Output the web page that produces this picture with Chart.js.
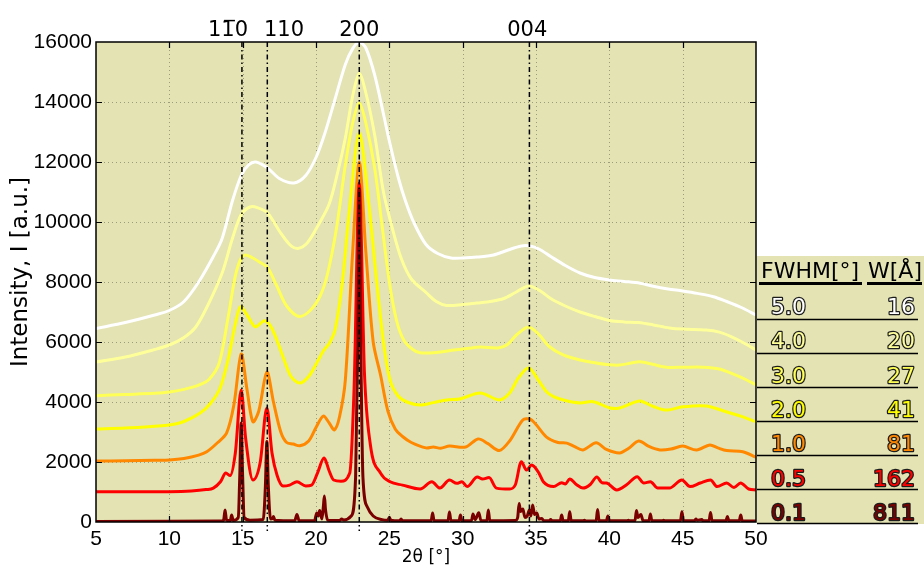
<!DOCTYPE html>
<html>
<head>
<meta charset="utf-8">
<script src="https://cdn.jsdelivr.net/npm/chart.js@4.4.0/dist/chart.umd.min.js"></script>
<style>
  html, body { margin: 0; padding: 0; background: #fff; }
</style>
</head>
<body>
<canvas id="xrd" width="924" height="570"></canvas>
<script>
// XRD patterns simulated with different peak widths, stacked with offsets
// each series: [2theta, intensity]

const fw50 = [[5,6450],[7,6650],[9,6900],[10,7050],[11,7350],[12,8000],[13,8850],[13.6,9450],[14.3,10700],[14.9,11550],[15.4,11900],[15.9,12000],[16.7,11800],[17.5,11450],[18.5,11300],[19.3,11550],[20.0,12150],[20.6,12950],[21.3,14100],[22.0,15250],[22.5,15780],[22.95,16000],[23.4,15800],[24.0,14900],[24.6,13600],[25.0,12700],[25.6,11500],[26.1,10700],[26.7,9950],[27.5,9250],[28.3,8950],[29.2,8800],[30.0,8800],[31.0,8830],[32.1,8900],[33.0,9050],[34.0,9200],[34.6,9200],[35.2,9100],[36.0,8850],[37.0,8550],[38.0,8300],[39.0,8150],[40.0,8070],[41.0,8020],[42.1,7960],[43.0,7860],[44.0,7770],[45.0,7700],[46.0,7620],[47.1,7510],[48.0,7350],[49.0,7150],[50,6900]];

const fw40 = [[5,5330],[7,5500],[9,5750],[10,5900],[11,6150],[11.8,6500],[12.6,7200],[13.6,8300],[14.3,9450],[14.9,10250],[15.5,10500],[16.0,10480],[16.7,10300],[17.5,9700],[18.2,9250],[18.75,9120],[19.4,9300],[20.1,9850],[20.9,10600],[21.5,11700],[22.0,12800],[22.5,14200],[22.95,14950],[23.4,14300],[24.0,12900],[24.6,11000],[25.2,9800],[25.8,8800],[26.5,8100],[27.5,7650],[28.2,7350],[28.9,7220],[30.0,7250],[31.0,7300],[32.0,7360],[32.8,7450],[33.6,7650],[34.5,7870],[35.3,7700],[36.0,7450],[37.0,7200],[38.0,7000],[39.0,6850],[40.0,6720],[41.0,6670],[42.0,6650],[43.0,6570],[44.1,6470],[45.0,6430],[46.6,6400],[47.5,6330],[48.3,6180],[49.2,5960],[50,5730]];

const fw30 = [[5,4210],[7,4250],[9,4290],[10,4330],[11,4420],[12,4560],[12.7,4750],[13.4,5300],[14.0,6800],[14.5,8200],[14.9,8800],[15.2,8900],[15.7,8800],[16.2,8650],[16.7,8480],[17.3,7900],[18.0,7200],[18.85,6850],[19.6,7050],[20.3,7550],[20.8,8300],[21.4,9800],[22.0,11900],[22.5,13300],[22.95,13970],[23.4,13300],[24.0,11800],[24.5,9900],[25.0,8000],[25.5,6700],[26.0,6050],[26.6,5750],[27.1,5640],[28.2,5650],[29.4,5730],[30.4,5790],[31.2,5830],[32.4,5800],[33.0,5900],[33.7,6250],[34.5,6500],[35.2,6250],[35.9,5850],[36.85,5570],[38.0,5400],[39.1,5300],[40.0,5240],[40.7,5230],[41.5,5300],[42.1,5340],[43.0,5250],[43.9,5160],[45.0,5160],[46.4,5160],[47.5,5100],[48.5,4920],[49.3,4750],[50,4570]];

const fw20 = [[5,3100],[7,3130],[9,3190],[10,3230],[11,3350],[12.1,3630],[12.8,3950],[13.45,4450],[14.0,5400],[14.5,6600],[14.85,7180],[15.3,6900],[15.85,6510],[16.5,6710],[17.0,6450],[17.75,5510],[18.3,4850],[18.9,4630],[19.5,4850],[20.05,5300],[20.5,5700],[20.9,5950],[21.3,6400],[21.8,8000],[22.3,10500],[22.95,12970],[23.6,10600],[24.1,8200],[24.6,6000],[25.05,4730],[25.6,4200],[26.2,4000],[27.1,3900],[28.0,3980],[28.9,4070],[29.8,4100],[31.2,4300],[32.5,4070],[33.2,4300],[33.8,4800],[34.5,5130],[35.2,4700],[35.7,4350],[36.2,4180],[37.0,4050],[38.0,3970],[38.9,4010],[40.05,3800],[40.7,3800],[41.5,3950],[42.1,4030],[43.0,3850],[43.9,3730],[45.0,3840],[46.6,3870],[47.8,3700],[49.0,3520],[50,3340]];

const fw10 = [[5,2030],[7,2040],[9,2060],[10,2070],[11,2120],[12,2230],[12.55,2340],[13.3,2650],[13.9,2960],[14.4,3900],[14.9,5600],[15.3,4400],[15.7,3340],[16.1,3700],[16.65,5000],[17.1,4000],[17.6,3000],[18.0,2650],[18.45,2600],[18.9,2540],[19.5,2700],[20.0,3150],[20.5,3530],[20.9,3300],[21.25,3070],[21.6,3500],[22.0,4730],[22.5,9000],[22.95,12000],[23.4,9000],[23.9,6000],[24.4,4900],[24.9,3700],[25.4,3100],[25.9,2850],[26.5,2650],[27.5,2470],[28.0,2500],[28.5,2460],[29.1,2530],[30.2,2500],[31.05,2770],[31.7,2620],[32.5,2380],[33.2,2700],[34.1,3400],[34.6,3430],[35.0,3250],[35.7,2840],[36.5,2650],[37.1,2630],[37.6,2520],[38.2,2400],[39.1,2640],[39.8,2420],[40.7,2300],[41.3,2450],[42.0,2700],[42.7,2520],[43.45,2400],[44.2,2430],[45.0,2530],[45.95,2400],[46.85,2570],[47.4,2470],[48.0,2380],[49.1,2340],[50,2160]];

const fw05 = [[5,1010],[8,1010],[10,1010],[11.5,1030],[12.5,1080],[13.0,1130],[13.5,1350],[13.85,1630],[14.15,1550],[14.5,2300],[14.9,4400],[15.2,2800],[15.7,1400],[16.2,2000],[16.65,3800],[17.0,2300],[17.35,1550],[17.75,1200],[18.2,1230],[18.7,1340],[19.3,1200],[19.7,1230],[20.1,1630],[20.55,2130],[20.9,1700],[21.2,1400],[21.7,1360],[22.3,1630],[22.6,4500],[22.95,11300],[23.3,5000],[23.7,2600],[24.4,1630],[25.05,1340],[25.9,1230],[27.1,1100],[27.9,1340],[28.45,1130],[29.1,1400],[29.6,1290],[29.95,1340],[30.3,1180],[31.0,1500],[31.35,1430],[31.8,1480],[32.3,1130],[33.2,1100],[33.6,1250],[34.0,2010],[34.35,1730],[34.7,1900],[35.2,1630],[35.5,1340],[36.2,1180],[36.75,1310],[37.0,1270],[37.3,1430],[37.75,1250],[38.2,1130],[38.7,1250],[39.15,1500],[39.5,1310],[39.8,1300],[40.5,1070],[41.2,1250],[41.9,1510],[42.35,1300],[42.8,1340],[43.3,1130],[44.1,1130],[44.95,1400],[45.5,1180],[46.2,1300],[46.9,1400],[47.35,1180],[48.0,1300],[48.5,1150],[48.95,1300],[49.5,1100],[50,1070]];

const fw01 = [[5,20],[13.5,30],[13.7,60],[13.8,400],[13.9,60],[14.15,40],[14.25,230],[14.35,50],[14.7,150],[14.8,1500],[14.9,3300],[15.0,1500],[15.1,150],[15.5,60],[16.4,80],[16.55,1200],[16.65,2680],[16.75,1200],[16.9,100],[17.05,120],[17.1,180],[17.2,60],[18.55,40],[18.7,250],[18.85,40],[19.9,40],[20.05,300],[20.15,200],[20.25,380],[20.4,100],[20.5,500],[20.57,870],[20.65,400],[20.8,60],[21.6,50],[21.75,100],[21.9,70],[22.4,200],[22.7,1500],[22.85,6000],[22.95,11100],[23.05,6000],[23.2,1500],[23.5,500],[23.9,200],[24.5,80],[24.9,60],[25.0,160],[25.1,60],[25.7,40],[25.8,100],[25.9,40],[27.85,40],[27.95,300],[28.05,40],[29.0,40],[29.1,330],[29.2,40],[29.75,40],[29.85,230],[29.95,40],[30.6,40],[30.7,270],[30.85,80],[31.1,310],[31.25,40],[31.65,40],[31.75,400],[31.85,40],[33.6,50],[33.75,150],[33.85,620],[33.95,350],[34.1,430],[34.25,150],[34.4,200],[34.55,400],[34.65,200],[34.77,570],[34.9,250],[35.05,300],[35.2,100],[35.4,120],[35.5,50],[35.9,40],[36.0,80],[36.1,40],[36.65,40],[36.75,230],[36.85,40],[37.2,40],[37.3,340],[37.4,40],[38.2,40],[38.3,60],[38.4,30],[39.1,40],[39.2,420],[39.3,40],[39.8,40],[39.9,200],[40.0,40],[41.2,40],[41.3,60],[41.4,40],[41.75,40],[41.85,380],[41.95,150],[42.15,250],[42.3,40],[42.7,40],[42.8,270],[42.9,40],[43.6,40],[43.7,60],[43.8,40],[44.85,40],[44.95,340],[45.05,40],[45.8,40],[45.9,100],[46.0,60],[46.3,80],[46.4,40],[46.8,40],[46.9,320],[47.0,40],[47.95,40],[48.05,180],[48.15,40],[48.85,40],[48.96,230],[49.06,40],[50,30]];

// reflections (hkl) and their 2theta
const hklLabels = ['11\u03050', '110', '200', '004'];
const hklPos = [14.95, 16.68, 22.95, 34.55];
const hklTextAt = [14.0, 17.82, 22.95, 34.4];

// legend table: peak width and crystallite size
const fwhmText = ['5.0', '4.0', '3.0', '2.0', '1.0', '0.5', '0.1'];
const sizeText = ['16', '20', '27', '41', '81', '162', '811'];

const xTicks = [5, 10, 15, 20, 25, 30, 35, 40, 45, 50];
const yTicks = [0, 2000, 4000, 6000, 8000, 10000, 12000, 14000, 16000];

const PLOT_BG = '#e3e3b4';
const lineColors = ['#7a0000', '#ff0000', '#ff8800', '#ffff00', '#ffff55', '#ffff99', '#ffffff'];
const series = [fw01, fw05, fw10, fw20, fw30, fw40, fw50];
const tableColors = lineColors.slice().reverse();

const toXY = arr => arr.map(p => ({x: p[0], y: p[1]}));

const frame = {
  id: 'frame',
  beforeDatasetsDraw(chart) {
    const {ctx, chartArea: a, scales: {x, y}} = chart;
    ctx.save();
    ctx.fillStyle = PLOT_BG;
    ctx.fillRect(a.left, a.top, a.right - a.left, a.bottom - a.top);
    // dotted grid
    ctx.strokeStyle = '#9c9b7c';
    ctx.lineWidth = 1;
    ctx.setLineDash([1, 3]);
    xTicks.slice(1, -1).forEach(v => {
      const px = Math.round(x.getPixelForValue(v)) + 0.5;
      ctx.beginPath(); ctx.moveTo(px, a.top); ctx.lineTo(px, a.bottom); ctx.stroke();
    });
    yTicks.slice(1, -1).forEach(v => {
      const py = Math.round(y.getPixelForValue(v)) + 0.5;
      ctx.beginPath(); ctx.moveTo(a.left, py); ctx.lineTo(a.right, py); ctx.stroke();
    });
    ctx.restore();
  },
  afterDatasetsDraw(chart) {
    const {ctx, chartArea: a, scales: {x, y}} = chart;
    ctx.save();
    // reflection markers
    ctx.strokeStyle = '#000';
    ctx.lineWidth = 1.5;
    ctx.setLineDash([5, 3, 1.5, 3]);
    hklPos.forEach(v => {
      const px = x.getPixelForValue(v);
      ctx.beginPath(); ctx.moveTo(px, a.top); ctx.lineTo(px, a.bottom + 9); ctx.stroke();
    });
    ctx.setLineDash([]);
    ctx.fillStyle = '#000';
    ctx.font = '21px "DejaVu Sans"';
    ctx.textAlign = 'center';
    ctx.textBaseline = 'alphabetic';
    hklLabels.forEach((t, i) => ctx.fillText(t, x.getPixelForValue(hklTextAt[i]), 36));

    // y axis title
    ctx.save();
    ctx.translate(21, 272);
    ctx.rotate(-Math.PI / 2);
    ctx.font = '23px "DejaVu Sans"';
    ctx.textBaseline = 'middle';
    ctx.fillText('Intensity, I [a.u.]', 0, 0);
    ctx.restore();

    // box and inward ticks
    ctx.lineWidth = 1.5;
    ctx.strokeRect(a.left, a.top, a.right - a.left, a.bottom - a.top);
    ctx.lineWidth = 1.2;
    ctx.beginPath();
    xTicks.slice(1, -1).forEach(v => {
      const px = Math.round(x.getPixelForValue(v)) + 0.5;
      ctx.moveTo(px, a.bottom); ctx.lineTo(px, a.bottom - 6);
      ctx.moveTo(px, a.top); ctx.lineTo(px, a.top + 6);
    });
    yTicks.slice(1, -1).forEach(v => {
      const py = Math.round(y.getPixelForValue(v)) + 0.5;
      ctx.moveTo(a.left, py); ctx.lineTo(a.left + 6, py);
      ctx.moveTo(a.right, py); ctx.lineTo(a.right - 6, py);
    });
    ctx.stroke();

    // FWHM / size table
    const tx = a.right + 1;
    ctx.fillStyle = PLOT_BG;
    ctx.fillRect(tx, 256, chart.width - tx, 268);
    ctx.fillStyle = '#000';
    ctx.font = '22px "DejaVu Sans"';
    ctx.textAlign = 'left';
    ctx.fillText('FWHM[°]', 761, 278);
    ctx.fillText('W[Å]', 868, 278);
    ctx.lineWidth = 3;
    ctx.beginPath();
    ctx.moveTo(759, 283.5); ctx.lineTo(862, 283.5);
    ctx.moveTo(867, 283.5); ctx.lineTo(922, 283.5);
    ctx.stroke();
    ctx.lineJoin = 'round';
    fwhmText.forEach((t, i) => {
      const base = 314 + i * 34.3;
      ctx.lineWidth = 2.5;
      ctx.strokeStyle = '#1c1c1c';
      ctx.fillStyle = tableColors[i];
      ctx.textAlign = 'left';
      ctx.strokeText(t, 771, base);
      ctx.fillText(t, 771, base);
      ctx.textAlign = 'right';
      ctx.strokeText(sizeText[i], 915, base);
      ctx.fillText(sizeText[i], 915, base);
      ctx.lineWidth = 1.5;
      ctx.strokeStyle = '#000';
      const ly = 319.5 + i * 34;
      ctx.beginPath(); ctx.moveTo(757, ly); ctx.lineTo(918, ly); ctx.stroke();
    });
    ctx.restore();
  }
};

new Chart(document.getElementById('xrd'), {
  type: 'line',
  data: {
    datasets: series.map((s, i) => ({
      label: fwhmText[6 - i],
      data: toXY(s),
      borderColor: lineColors[i],
      borderWidth: 3,
      pointRadius: 0,
      fill: false,
      // narrow patterns keep their spikes, broad ones get a softer curve
      cubicInterpolationMode: i < 2 ? 'monotone' : 'default',
      tension: i < 2 ? 0 : 0.3
    }))
  },
  options: {
    responsive: false,
    devicePixelRatio: 1,
    animation: false,
    layout: { padding: { top: 42, right: 168, left: 0, bottom: 0 } },
    plugins: { legend: { display: false }, tooltip: { enabled: false } },
    scales: {
      x: {
        type: 'linear',
        min: 5, max: 50,
        afterBuildTicks: s => { s.ticks = xTicks.map(v => ({value: v})); },
        afterFit: s => { s.height = 48; },
        grid: { display: false, drawTicks: false },
        border: { display: false },
        ticks: { color: '#000', padding: 5, font: { family: 'Liberation Sans', size: 21 } },
        title: {
          display: true, text: '2θ [°]', color: '#000',
          font: { family: 'DejaVu Sans', size: 17 },
          padding: { top: 0, bottom: 2 }
        }
      },
      y: {
        min: 0, max: 16000,
        afterBuildTicks: s => { s.ticks = yTicks.map(v => ({value: v})); },
        afterFit: s => { s.width = 96; },
        grid: { display: false, drawTicks: false },
        border: { display: false },
        ticks: {
          color: '#000', padding: 4, font: { family: 'Liberation Sans', size: 21 },
          callback: v => String(v)
        }
      }
    }
  },
  plugins: [frame]
});
</script>
</body>
</html>
